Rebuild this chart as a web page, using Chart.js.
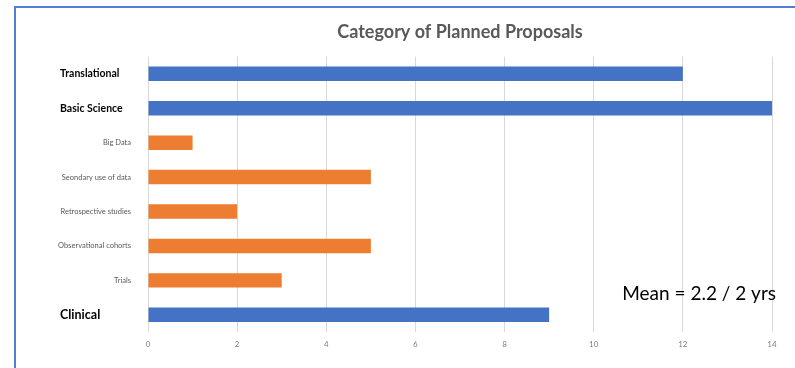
<!DOCTYPE html>
<html>
<head>
<meta charset="utf-8">
<script src="https://cdn.jsdelivr.net/npm/chart.js@4"></script>
<style>
  html, body { margin: 0; padding: 0; background: #fff; }
  #wrap { position: relative; width: 795px; height: 368px; overflow: hidden; }
  #frame { position: absolute; left: 14px; top: 6px; width: 900px; height: 500px;
           border: 2px solid #4f7fd2; box-sizing: border-box; }
  #box { position: absolute; left: 0; top: 0; width: 795px; height: 368px; }
</style>
</head>
<body>
<div id="wrap">
  <div id="frame"></div>
  <div id="box"><canvas id="graficPropostes"></canvas></div>
</div>
<script>
const categories = ['Translational', 'Basic Science', 'Big Data', 'Seondary use of data',
  'Retrospective studies', 'Observational cohorts', 'Trials', 'Clinical'];
const counts = [12, 14, 1, 5, 2, 5, 3, 9];
const headerCategories = ['Translational', 'Basic Science', 'Clinical'];
const xTicks = [0, 2, 4, 6, 8, 10, 12, 14];
const meanNote = 'Mean = 2.2 / 2 yrs';

const isHeader = c => headerCategories.includes(c);

// bold group labels are left aligned, so they are drawn here instead of as ticks
const groupLabels = {
  id: 'groupLabels',
  afterDraw(chart) {
    const c = chart.ctx, y = chart.scales.y, x = chart.scales.x;
    c.save();
    c.textBaseline = 'middle';
    c.textAlign = 'left';
    c.fillStyle = '#000';
    categories.forEach((cat, i) => {
      if (!isHeader(cat)) return;
      c.font = cat === 'Clinical' ? 'bold 12.5px Lato' : 'bold 10.5px Lato';
      c.fillText(cat, 60, y.getPixelForValue(i));
    });
    c.font = '19px Lato';
    c.textAlign = 'right';
    c.fillText(meanNote, x.getPixelForValue(14) + 4, y.getPixelForValue(6.38));
    c.restore();
  }
};

document.addEventListener('DOMContentLoaded', function () {
const ctx = document.getElementById('graficPropostes').getContext('2d');
new Chart(ctx, {
    type: 'bar',
    data: {
        labels: categories,
        datasets: [{
            label: 'Proposals',
            data: counts,
            backgroundColor: categories.map(c => isHeader(c) ? '#4472C4' : '#ED7D31'),
            barPercentage: 0.42,
            categoryPercentage: 1
        }]
    },
    options: {
        indexAxis: 'y',
        responsive: true,
        maintainAspectRatio: false,
        animation: false,
        layout: { padding: { left: 0, right: 23, top: 0, bottom: 0 } },
        scales: {
            x: {
                min: 0,
                max: 14,
                afterBuildTicks: s => { s.ticks = xTicks.map(v => ({ value: v })); },
                afterFit: s => { s.height = 36; },
                grid: { color: '#d9d9d9', drawTicks: false },
                border: { display: false },
                ticks: { color: '#7f7f7f', font: { family: 'Lato', size: 8 }, padding: 8 }
            },
            y: {
                afterFit: s => { s.width = 148; },
                grid: { display: false },
                border: { display: false },
                ticks: {
                    color: '#595959',
                    font: { family: 'Lato', size: 7.5 },
                    padding: 9,
                    callback: function (v) {
                        const c = this.getLabelForValue(v);
                        return isHeader(c) ? '' : c;
                    }
                }
            }
        },
        plugins: {
            legend: { display: false },
            tooltip: { enabled: false },
            title: {
                display: true,
                text: 'Category of Planned Proposals',
                fullSize: false,
                color: '#595959',
                font: { family: 'Lato', size: 18, weight: 'bold' },
                padding: { top: 21, bottom: 14 }
            }
        }
    },
    plugins: [groupLabels]
});
});
</script>
</body>
</html>
